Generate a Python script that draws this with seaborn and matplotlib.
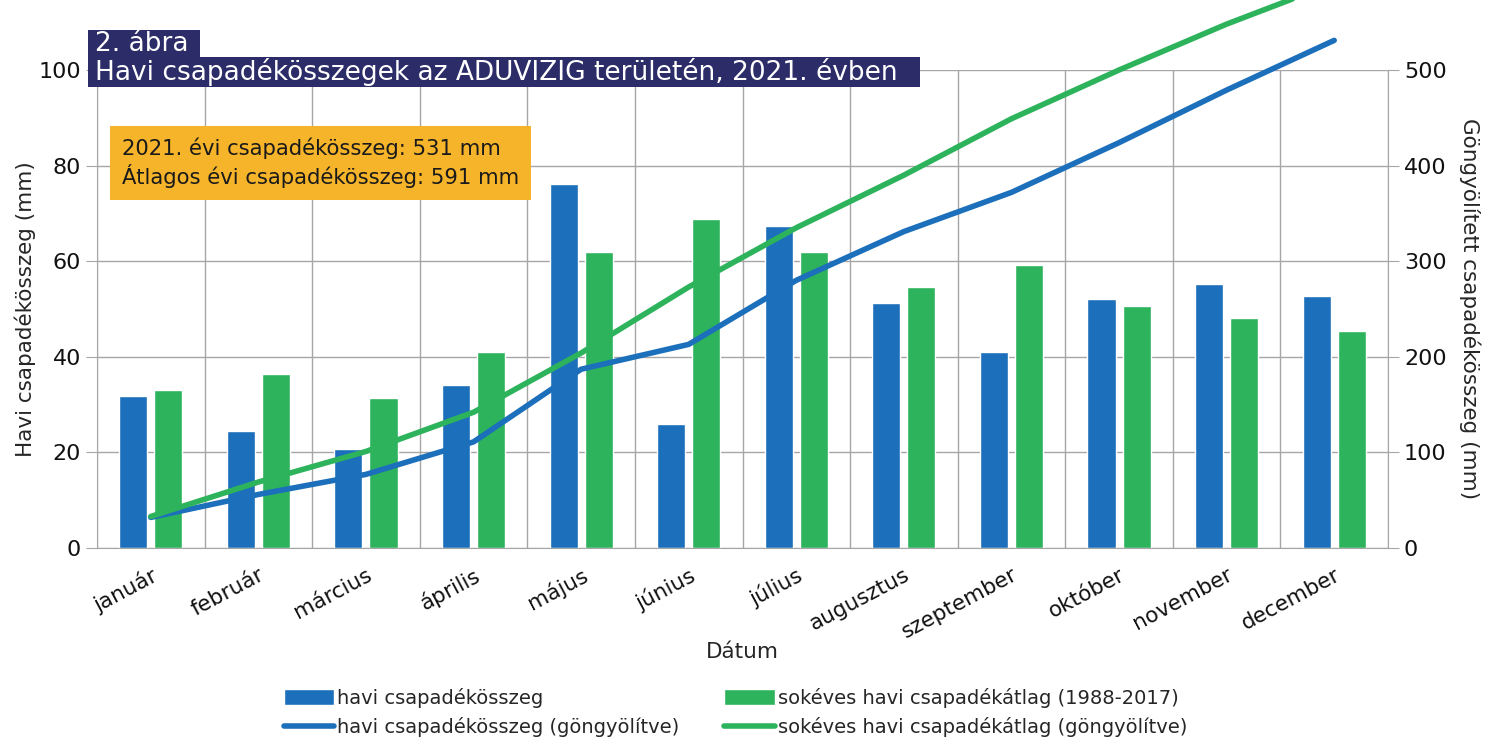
import numpy as np
import pandas as pd
import matplotlib.pyplot as plt
import seaborn as sns
from matplotlib.patches import Patch, Rectangle
from matplotlib.lines import Line2D

# adatok
honapok = ['január', 'február', 'március', 'április', 'május', 'június',
           'július', 'augusztus', 'szeptember', 'október', 'november', 'december']
havi_2021 = [31.7, 24.5, 20.8, 34.0, 76.2, 25.9, 67.3, 51.2, 41.1, 52.0, 55.3, 52.7]
sokeves_atlag = [33.1, 36.3, 31.4, 40.9, 61.9, 68.8, 61.9, 54.7, 59.3, 50.7, 48.1, 45.5]
havi_2021_gongy = [32, 56, 77, 111, 187, 213, 280, 331, 372, 424, 479, 531]
sokeves_gongy = [33, 69, 101, 142, 204, 273, 335, 390, 449, 500, 548, 591]

kek = '#1c6fba'
zold = '#2db35b'
racs = '#a6a6a6'

sns.set_style('white')
plt.rcParams['font.family'] = ['DejaVu Sans']

df = pd.DataFrame({
    'Dátum': honapok * 2,
    'ertek': havi_2021 + sokeves_atlag,
    'sorozat': ['havi csapadékösszeg'] * 12 + ['sokéves havi csapadékátlag (1988-2017)'] * 12,
})

W, H = 1491, 737
fig = plt.figure(figsize=(W / 100, H / 100), dpi=100)
ax = fig.add_axes([97 / W, 1 - 548 / H, (1388 - 97) / W, (548 - 70) / H])

sns.barplot(data=df, x='Dátum', y='ertek', hue='sorozat', palette=[kek, zold],
            width=0.652, gap=0.2, saturation=1, legend=False, ax=ax)

ax.set_xlim(-0.5, 11.5)
ax.set_ylim(0, 100)
ax.set_yticks(np.arange(0, 101, 20))
ax.set_xticks(np.arange(-0.5, 12, 1), minor=True)
ax.grid(axis='y', color=racs, lw=1)
ax.grid(axis='x', which='minor', color=racs, lw=1)
ax.set_axisbelow(True)
ax.tick_params(axis='x', which='major', length=0, pad=12, labelsize=15.5, labelcolor='#111111')
ax.tick_params(axis='x', which='minor', length=8, color=racs, direction='out')
ax.tick_params(axis='y', length=8, color=racs, labelsize=16, left=True, labelcolor='#111111')
plt.setp(ax.get_xticklabels(), rotation=28, ha='right', va='top', rotation_mode='anchor')
ax.set_xlabel('Dátum', fontsize=15.5, labelpad=0)
ax.set_ylabel('Havi csapadékösszeg (mm)', fontsize=15.5)
ax.yaxis.set_label_coords(-0.047, 0.5)
for s in ['left', 'bottom', 'right']:
    ax.spines[s].set_color(racs)
ax.spines['top'].set_visible(False)

# göngyölített görbék a jobb tengelyen
ax2 = ax.twinx()
x_pos = np.arange(len(honapok))
sns.lineplot(x=x_pos, y=havi_2021_gongy, color=kek, lw=4, ax=ax2,
             clip_on=False, solid_capstyle='round')
sns.lineplot(x=x_pos, y=sokeves_gongy, color=zold, lw=4, ax=ax2,
             clip_on=False, solid_capstyle='round')
ax2.set_ylim(0, 500)
ax2.set_yticks(np.arange(0, 501, 100))
ax2.tick_params(axis='y', length=8, color=racs, labelsize=16, right=True, labelcolor='#111111')
ax2.set_ylabel('Göngyölített csapadékösszeg (mm)', rotation=270, fontsize=15.5, labelpad=24)
for s in ax2.spines.values():
    s.set_visible(False)

# cím (sötétkék sávok)
fejlec = '#2b2c68'
fig.patches.append(Rectangle((88 / W, 1 - 57 / H), (200 - 88) / W, 27 / H,
                             transform=fig.transFigure, facecolor=fejlec, edgecolor='none', zorder=5))
fig.patches.append(Rectangle((88 / W, 1 - 87 / H), (920 - 88) / W, 30 / H,
                             transform=fig.transFigure, facecolor=fejlec, edgecolor='none', zorder=5))
fig.text(95 / W, 1 - 44 / H, '2. ábra', color='white', fontsize=19, va='center', zorder=6)
fig.text(95 / W, 1 - 72 / H, 'Havi csapadékösszegek az ADUVIZIG területén, 2021. évben',
         color='white', fontsize=19, va='center', zorder=6)

# sárga szövegdoboz
fig.text(122 / W, 1 - 163 / H,
         '2021. évi csapadékösszeg: 531 mm\nÁtlagos évi csapadékösszeg: 591 mm',
         fontsize=15.2, va='center', linespacing=1.25, color='#1a1a1a',
         bbox=dict(facecolor='#f6b42a', edgecolor='none', boxstyle='square,pad=0.55'))

# jelmagyarázat
kezelok = [Patch(facecolor=kek), Line2D([], [], color=kek, lw=4, solid_capstyle='round'),
           Patch(facecolor=zold), Line2D([], [], color=zold, lw=4, solid_capstyle='round')]
cimkek = ['havi csapadékösszeg', 'havi csapadékösszeg (göngyölítve)',
          'sokéves havi csapadékátlag (1988-2017)', 'sokéves havi csapadékátlag (göngyölítve)']
fig.legend(kezelok, cimkek, loc='upper left', bbox_to_anchor=(270 / W, 1 - 674 / H),
           ncol=2, frameon=False, handlelength=2.6, handleheight=0.9, handletextpad=0.15,
           columnspacing=2.3, labelspacing=0.5, borderpad=0.2, fontsize=14)

fig.savefig('out.png', dpi=100)
